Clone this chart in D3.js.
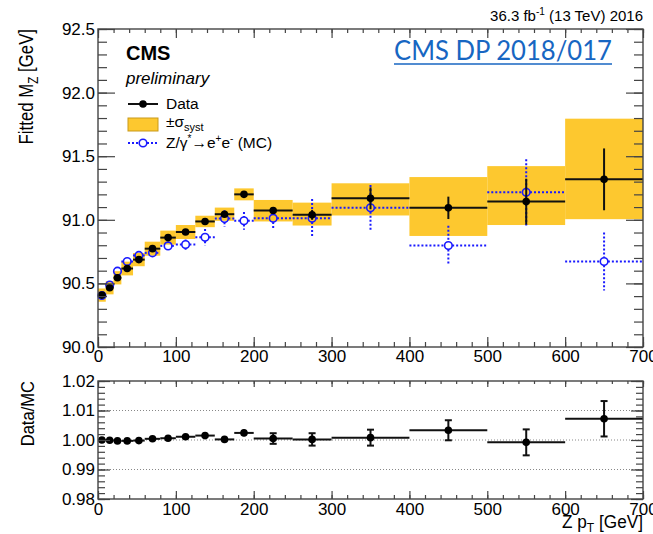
<!DOCTYPE html>
<html>
<head>
<meta charset="utf-8">
<script src="https://cdn.jsdelivr.net/npm/d3@7"></script>
<style>
  html, body { margin: 0; padding: 0; background: #fff; }
  svg { display: block; }
  svg text { font-family: "Liberation Sans", Arial, Helvetica, sans-serif; fill: #000; }
</style>
</head>
<body>
<svg id="chart" width="653" height="534"></svg>
<script>
// Z pT bins [GeV]
const binLo = [0, 10, 20, 30, 45, 60, 80, 100, 125, 150, 175, 200, 250, 300, 400, 500, 600];
const binHi = [10, 20, 30, 45, 60, 80, 100, 125, 150, 175, 200, 250, 300, 400, 500, 600, 700];
const binCenter = [5, 15, 25, 37.5, 52.5, 70, 90, 112.5, 137.5, 162.5, 187.5, 225, 275, 350, 450, 550, 650];

// Fitted Z mass in data [GeV] and its statistical uncertainty
const dataMz  = [90.408, 90.466, 90.544, 90.617, 90.687, 90.773, 90.860, 90.904, 90.987, 91.044, 91.200, 91.073, 91.039, 91.169, 91.094, 91.143, 91.318];
const dataErr = [0.003, 0.003, 0.003, 0.004, 0.004, 0.005, 0.006, 0.007, 0.009, 0.012, 0.014, 0.020, 0.039, 0.086, 0.088, 0.180, 0.243];

// Systematic band edges [GeV]
const sysLo = [90.356, 90.414, 90.492, 90.563, 90.635, 90.718, 90.805, 90.849, 90.942, 90.992, 91.153, 90.987, 90.955, 91.034, 90.873, 90.959, 91.005];
const sysHi = [90.460, 90.518, 90.596, 90.671, 90.739, 90.828, 90.915, 90.959, 91.032, 91.096, 91.247, 91.156, 91.135, 91.287, 91.336, 91.422, 91.795];

// Fitted Z mass in Z/gamma* -> ee simulation [GeV]
const mcMz  = [90.405, 90.487, 90.596, 90.672, 90.720, 90.740, 90.795, 90.805, 90.862, 91.010, 90.992, 91.013, 91.013, 91.094, 90.797, 91.216, 90.672];
const mcErr = [0.005, 0.006, 0.008, 0.010, 0.012, 0.018, 0.028, 0.040, 0.065, 0.065, 0.070, 0.078, 0.150, 0.180, 0.156, 0.260, 0.228];

// Data/MC ratio
const ratio    = [1.0000, 0.9999, 0.9997, 0.9997, 0.9998, 1.0004, 1.0006, 1.0011, 1.0015, 1.0002, 1.0024, 1.0005, 1.0002, 1.0008, 1.0033, 0.9992, 1.0072];
const ratioErr = [0.0001, 0.0001, 0.0001, 0.0001, 0.0001, 0.0002, 0.0003, 0.0004, 0.0004, 0.0006, 0.0011, 0.0018, 0.0021, 0.0027, 0.0034, 0.0044, 0.0060];

// Axis ticks
const xMajor = [0, 100, 200, 300, 400, 500, 600, 700];
const yMainMajor = [90.0, 90.5, 91.0, 91.5, 92.0, 92.5];
const yRatioMajor = [0.98, 0.99, 1.00, 1.01, 1.02];
const ratioGrid = [0.99, 1.00, 1.01];

const C_SYS = "#fdc82f";
const C_MC = "#1a1aff";
const C_FRAME = "#444";

const svg = d3.select("#chart");

const x = d3.scaleLinear().domain([0, 700]).range([98, 643]);
const yM = d3.scaleLinear().domain([90, 92.5]).range([347, 29]);
const yR = d3.scaleLinear().domain([0.98, 1.02]).range([499, 381]);

const rows = binCenter.map((c, i) => ({
  c, lo: binLo[i], hi: binHi[i],
  d: dataMz[i], de: dataErr[i],
  sl: sysLo[i], sh: sysHi[i],
  m: mcMz[i], me: mcErr[i],
  r: ratio[i], re: ratioErr[i]
}));

function minorTicks(lo, hi, step) {
  const out = [];
  const n = Math.round((hi - lo) / step);
  for (let k = 0; k <= n; k++) out.push(+(lo + k * step).toFixed(6));
  return out;
}

function styleAxis(g) {
  g.select(".domain").remove();
  g.selectAll(".tick line").attr("stroke", C_FRAME).attr("stroke-width", 1.2);
  g.selectAll(".tick text").attr("font-size", 17).attr("fill", "#000");
}

function drawFrameAxes(yScale, yMajorVals, yMinorStep, fmt, sizes) {
  const [xTop, xBottom] = [yScale.range()[1], yScale.range()[0]];
  const xMinor = minorTicks(0, 700, 20);
  const yDom = yScale.domain();
  const yMinor = minorTicks(yDom[0], yDom[1], yMinorStep);

  // bottom: labelled
  svg.append("g").attr("transform", `translate(0,${xBottom})`)
    .call(d3.axisBottom(x).tickValues(xMinor).tickSize(-sizes.xb[1]).tickFormat("")).call(styleAxis);
  svg.append("g").attr("transform", `translate(0,${xBottom})`)
    .call(d3.axisBottom(x).tickValues(xMajor).tickSize(-sizes.xb[0]).tickFormat(d3.format("d")))
    .call(styleAxis)
    .selectAll(".tick text").attr("dy", "0.71em").attr("y", sizes.xPad);
  // top: ticks only
  svg.append("g").attr("transform", `translate(0,${xTop})`)
    .call(d3.axisTop(x).tickValues(xMinor).tickSize(-sizes.xt[1]).tickFormat("")).call(styleAxis);
  svg.append("g").attr("transform", `translate(0,${xTop})`)
    .call(d3.axisTop(x).tickValues(xMajor).tickSize(-sizes.xt[0]).tickFormat("")).call(styleAxis);
  // left: labelled
  svg.append("g").attr("transform", `translate(${x(0)},0)`)
    .call(d3.axisLeft(yScale).tickValues(yMinor).tickSize(-sizes.y[1]).tickFormat("")).call(styleAxis);
  svg.append("g").attr("transform", `translate(${x(0)},0)`)
    .call(d3.axisLeft(yScale).tickValues(yMajorVals).tickSize(-sizes.y[0]).tickFormat(fmt))
    .call(styleAxis)
    .selectAll(".tick text").attr("x", -3);
  // right: ticks only
  svg.append("g").attr("transform", `translate(${x(700)},0)`)
    .call(d3.axisRight(yScale).tickValues(yMinor).tickSize(-sizes.y[1]).tickFormat("")).call(styleAxis);
  svg.append("g").attr("transform", `translate(${x(700)},0)`)
    .call(d3.axisRight(yScale).tickValues(yMajorVals).tickSize(-sizes.y[0]).tickFormat("")).call(styleAxis);

  svg.append("rect")
    .attr("x", x(0)).attr("y", xTop)
    .attr("width", x(700) - x(0)).attr("height", xBottom - xTop)
    .attr("fill", "none").attr("stroke", C_FRAME).attr("stroke-width", 1.4);
}

// ---------- upper panel: fitted mass ----------
const main = svg.append("g");

// systematic band
main.selectAll("rect.sys").data(rows).join("rect")
  .attr("class", "sys")
  .attr("x", d => x(d.lo)).attr("width", d => x(d.hi) - x(d.lo))
  .attr("y", d => yM(d.sh)).attr("height", d => yM(d.sl) - yM(d.sh))
  .attr("fill", C_SYS);

// simulation: dotted error crosses with open markers
const R = 3.8;
const mcG = main.append("g")
  .attr("stroke", C_MC).attr("stroke-width", 2).attr("stroke-dasharray", "2,2").attr("fill", "none");
rows.forEach(d => {
  const cx = x(d.c), cy = yM(d.m);
  const segs = [
    [x(d.lo), cy, cx - R, cy],
    [cx + R, cy, x(d.hi), cy]
  ];
  const top = yM(d.m + d.me), bot = yM(d.m - d.me);
  if (cy - top > R) segs.push([cx, top, cx, cy - R]);
  if (bot - cy > R) segs.push([cx, cy + R, cx, bot]);
  segs.forEach(s => mcG.append("line").attr("x1", s[0]).attr("y1", s[1]).attr("x2", s[2]).attr("y2", s[3]));
});
main.selectAll("circle.mc").data(rows).join("circle")
  .attr("class", "mc")
  .attr("cx", d => x(d.c)).attr("cy", d => yM(d.m)).attr("r", R)
  .attr("fill", "none").attr("stroke", C_MC).attr("stroke-width", 1.6);

// data: bin-width bars, stat. error bars, filled markers
main.selectAll("line.dh").data(rows).join("line")
  .attr("class", "dh")
  .attr("x1", d => x(d.lo)).attr("x2", d => x(d.hi))
  .attr("y1", d => yM(d.d)).attr("y2", d => yM(d.d))
  .attr("stroke", "#111").attr("stroke-width", 2);
main.selectAll("line.dv").data(rows).join("line")
  .attr("class", "dv")
  .attr("x1", d => x(d.c)).attr("x2", d => x(d.c))
  .attr("y1", d => yM(d.d + d.de)).attr("y2", d => yM(d.d - d.de))
  .attr("stroke", "#111").attr("stroke-width", 2);
main.selectAll("circle.dp").data(rows).join("circle")
  .attr("class", "dp")
  .attr("cx", d => x(d.c)).attr("cy", d => yM(d.d)).attr("r", R)
  .attr("fill", "#000");

drawFrameAxes(yM, yMainMajor, 0.1, d3.format(".1f"),
  { xb: [10, 5], xt: [9, 4], y: [17, 9], xPad: 3 });

// ---------- lower panel: ratio ----------
const rat = svg.append("g");
rat.selectAll("line.grid").data(ratioGrid).join("line")
  .attr("class", "grid")
  .attr("x1", x(0)).attr("x2", x(700))
  .attr("y1", d => yR(d)).attr("y2", d => yR(d))
  .attr("stroke", "#888").attr("stroke-width", 1).attr("stroke-dasharray", "1,2");

rat.selectAll("line.rh").data(rows).join("line")
  .attr("class", "rh")
  .attr("x1", d => x(d.lo)).attr("x2", d => x(d.hi))
  .attr("y1", d => yR(d.r)).attr("y2", d => yR(d.r))
  .attr("stroke", "#111").attr("stroke-width", 2);
rat.selectAll("line.rv").data(rows).join("line")
  .attr("class", "rv")
  .attr("x1", d => x(d.c)).attr("x2", d => x(d.c))
  .attr("y1", d => yR(d.r + d.re)).attr("y2", d => yR(d.r - d.re))
  .attr("stroke", "#111").attr("stroke-width", 2);
rows.filter(d => yR(d.r - d.re) - yR(d.r) > R + 1).forEach(d => {
  [d.r + d.re, d.r - d.re].forEach(v => {
    rat.append("line")
      .attr("x1", x(d.c) - 3.5).attr("x2", x(d.c) + 3.5)
      .attr("y1", yR(v)).attr("y2", yR(v))
      .attr("stroke", "#111").attr("stroke-width", 2);
  });
});
rat.selectAll("circle.rp").data(rows).join("circle")
  .attr("class", "rp")
  .attr("cx", d => x(d.c)).attr("cy", d => yR(d.r)).attr("r", R)
  .attr("fill", "#000");

drawFrameAxes(yR, yRatioMajor, 0.002, d3.format(".2f"),
  { xb: [8, 4], xt: [6, 3], y: [12, 7], xPad: 4 });

// ---------- axis titles ----------
const yTitle = svg.append("text")
  .attr("transform", "translate(33,29) rotate(-90) scale(0.84,1)")
  .attr("text-anchor", "end").attr("font-size", 20);
yTitle.append("tspan").text("Fitted M");
yTitle.append("tspan").attr("font-size", 14).attr("dy", 5).text("Z");
yTitle.append("tspan").attr("dy", -5).text(" [GeV]");

svg.append("text")
  .attr("transform", "translate(33.5,381) rotate(-90) scale(0.92,1)")
  .attr("text-anchor", "end").attr("font-size", 18)
  .text("Data/MC");

const xTitle = svg.append("text")
  .attr("transform", "translate(643,528) scale(0.93,1)")
  .attr("text-anchor", "end").attr("font-size", 18.5);
xTitle.append("tspan").text("Z p");
xTitle.append("tspan").attr("font-size", 13).attr("dy", 4).text("T");
xTitle.append("tspan").attr("dy", -4).text(" [GeV]");

// ---------- labels ----------
const lumi = svg.append("text")
  .attr("x", 643).attr("y", 21).attr("text-anchor", "end").attr("font-size", 15);
lumi.append("tspan").text("36.3 fb");
lumi.append("tspan").attr("font-size", 10).attr("dy", -6).text("-1");
lumi.append("tspan").attr("dy", 6).text(" (13 TeV) 2016");

svg.append("text")
  .attr("x", 126).attr("y", 60).attr("font-size", 20).attr("font-weight", "bold")
  .text("CMS");
svg.append("text")
  .attr("x", 126).attr("y", 84).attr("font-size", 17).attr("font-style", "italic")
  .text("preliminary");

svg.append("text")
  .attr("x", 394).attr("y", 60)
  .style("font-family", "Lato, 'Open Sans', sans-serif").attr("font-size", 26)
  .attr("textLength", 218).attr("lengthAdjust", "spacingAndGlyphs")
  .style("fill", "#1766c2")
  .text("CMS DP 2018/017");
svg.append("line")
  .attr("x1", 394).attr("x2", 612).attr("y1", 64).attr("y2", 64)
  .attr("stroke", "#1766c2").attr("stroke-width", 1.5);

// ---------- legend ----------
const lg = svg.append("g");
lg.append("line").attr("x1", 128).attr("x2", 158).attr("y1", 104).attr("y2", 104)
  .attr("stroke", "#111").attr("stroke-width", 2);
lg.append("circle").attr("cx", 143).attr("cy", 104).attr("r", R).attr("fill", "#000");
lg.append("text").attr("x", 166).attr("y", 109).attr("font-size", 15.5).text("Data");

lg.append("rect").attr("x", 128).attr("y", 118).attr("width", 30).attr("height", 13)
  .attr("fill", C_SYS).attr("stroke", "#c99a1a").attr("stroke-width", 1);
const sysT = lg.append("text").attr("x", 166).attr("y", 127).attr("font-size", 15.5);
sysT.append("tspan").text("±σ");
sysT.append("tspan").attr("font-size", 11).attr("dy", 4).text("syst");

lg.append("line").attr("x1", 128).attr("x2", 139).attr("y1", 143).attr("y2", 143)
  .attr("stroke", C_MC).attr("stroke-width", 2).attr("stroke-dasharray", "2,2");
lg.append("line").attr("x1", 147).attr("x2", 158).attr("y1", 143).attr("y2", 143)
  .attr("stroke", C_MC).attr("stroke-width", 2).attr("stroke-dasharray", "2,2");
lg.append("circle").attr("cx", 143).attr("cy", 143).attr("r", R)
  .attr("fill", "none").attr("stroke", C_MC).attr("stroke-width", 1.6);
const mcT = lg.append("text").attr("x", 166).attr("y", 148).attr("font-size", 15.5);
mcT.append("tspan").text("Z/γ");
mcT.append("tspan").attr("font-size", 10).attr("dy", -6).text("*");
mcT.append("tspan").attr("dy", 6).text("→e");
mcT.append("tspan").attr("font-size", 10).attr("dy", -6).text("+");
mcT.append("tspan").attr("dy", 6).text("e");
mcT.append("tspan").attr("font-size", 10).attr("dy", -6).text("-");
mcT.append("tspan").attr("dy", 6).text(" (MC)");
</script>
</body>
</html>
